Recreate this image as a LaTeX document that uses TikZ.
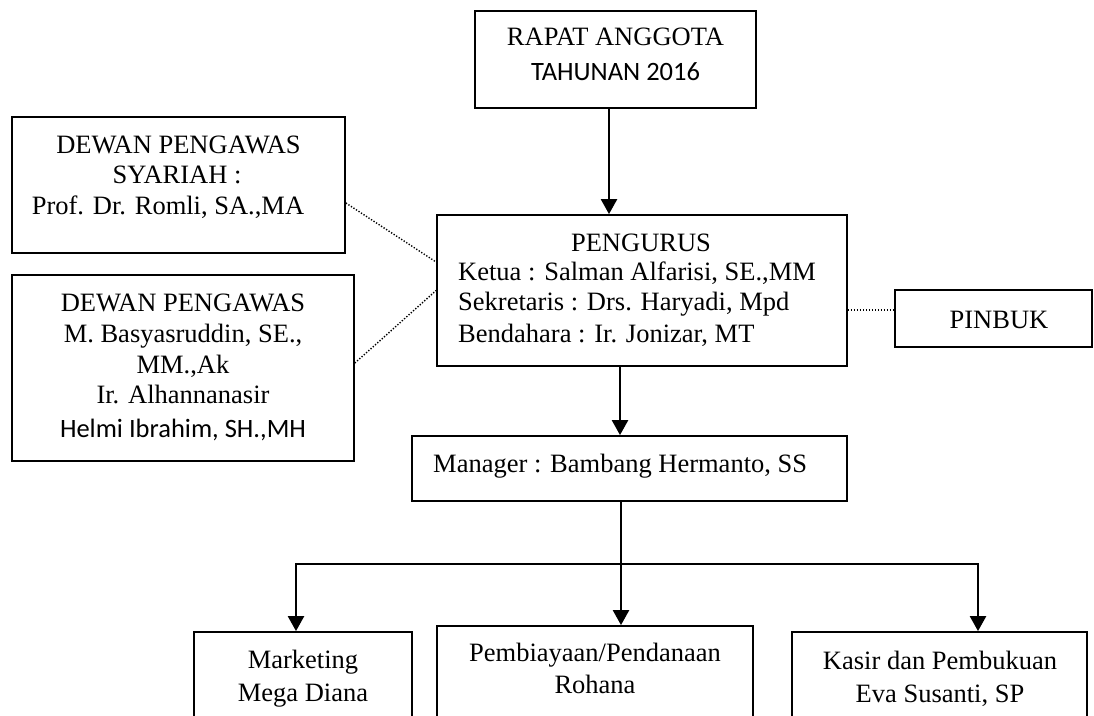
\documentclass[tikz,border=0pt]{standalone}
\usepackage{fontspec}
\setmainfont{Liberation Serif}
\newfontfamily\calibri{Carlito}
\usetikzlibrary{arrows.meta}
\begin{document}
\begin{tikzpicture}[x=1pt,y=-1pt,
  box/.style={draw, line width=1.8pt, inner sep=0pt, minimum width=#1},
  tx/.style={anchor=base, inner sep=0pt, font=\fontsize{26.5}{30}\selectfont},
  txl/.style={tx, anchor=base west},
  conn/.style={line width=2.4pt, line join=miter},
  arr/.style={conn, -{Triangle[width=16pt,length=15pt]}},
  dotline/.style={line width=1.4pt, dash pattern=on 1.3pt off 1.7pt}]
\useasboundingbox (0,0) rectangle (1094,715);
\clip (0,0) rectangle (1094,715);
\fill[white] (0,0) rectangle (1094,715);

% boxes
\node[box=281pt, minimum height=97pt]  (rapat)  at (615.5,59.5) {};
\node[box=333pt, minimum height=136pt] (dps)    at (178.5,185) {};
\node[box=342pt, minimum height=186pt] (dp)     at (183,368) {};
\node[box=410pt, minimum height=151pt] (peng)   at (642,290.5) {};
\node[box=197pt, minimum height=57pt]  (pinbuk) at (993.5,318.5) {};
\node[box=435pt, minimum height=65pt]  (mgr)    at (629.5,468.5) {};
\node[box=218pt, minimum height=120pt] (mkt)    at (303,692) {};
\node[box=316pt, minimum height=120pt] (pmb)    at (595,686) {};
\node[box=295pt, minimum height=120pt] (ksr)    at (939.5,692) {};

% texts
\node[tx] (r1) at (615.5,45) {RAPAT ANGGOTA};
\node[tx, font=\fontsize{26.5}{30}\calibri] (r2) at (615.5,80) {TAHUNAN 2016};

\node[tx] (s1) at (178.5,153) {DEWAN PENGAWAS};
\node[tx] (s2) at (177,183) {SYARIAH :};
\node[tx] (s3) at (168,214) {Prof. Dr. Romli, SA.,MA};

\node[tx] (p1) at (183,311) {DEWAN PENGAWAS};
\node[tx] (p2) at (183,342) {M. Basyasruddin, SE.,};
\node[tx] (p3) at (183,373) {MM.,Ak};
\node[tx] (p4) at (183,403) {Ir. Alhannanasir};
\node[tx, font=\fontsize{26.5}{30}\calibri] (p5) at (183,437) {Helmi Ibrahim, SH.,MH};

\node[tx] (g1) at (641,251) {PENGURUS};
\node[txl] (g2) at (458,280) {Ketua : Salman Alfarisi, SE.,MM};
\node[txl] (g3) at (458,310) {Sekretaris : Drs. Haryadi, Mpd};
\node[txl] (g4) at (458,342) {Bendahara : Ir. Jonizar, MT};

\node[tx] (pb) at (999,328) {PINBUK};
\node[txl] (mg) at (433,472) {Manager : Bambang Hermanto, SS};

\node[tx] (m1) at (303,668) {Marketing};
\node[tx] (m2) at (303,701) {Mega Diana};
\node[tx] (b1) at (595,661) {Pembiayaan/Pendanaan};
\node[tx] (b2) at (595,693) {Rohana};
\node[tx] (k1) at (940,669) {Kasir dan Pembukuan};
\node[tx] (k2) at (940,702) {Eva Susanti, SP};

% connectors
\coordinate (a1) at (609,0);
\coordinate (a2) at (620,0);
\coordinate (busL) at (296,564);
\coordinate (busM) at (621,564);
\coordinate (busR) at (978,564);
\coordinate (pl) at (0,310);

\draw[arr] (rapat.south -| a1) -- (peng.north -| a1);
\draw[arr] (peng.south -| a2) -- (mgr.north -| a2);
\draw[arr] (mgr.south -| busM) -- (pmb.north -| busM);
\draw[arr] (busM) -| (mkt.north -| busL);
\draw[arr] (busM) -| (ksr.north -| busR);

\draw[dotline] ([yshift=-18pt]dps.east) -- ([yshift=28.5pt]peng.west);
\draw[dotline] ([yshift=5pt]dp.east) -- ([yshift=0pt]peng.west);
\draw[dotline] (peng.east |- pl) -- (pinbuk.west |- pl);
\end{tikzpicture}
\end{document}
